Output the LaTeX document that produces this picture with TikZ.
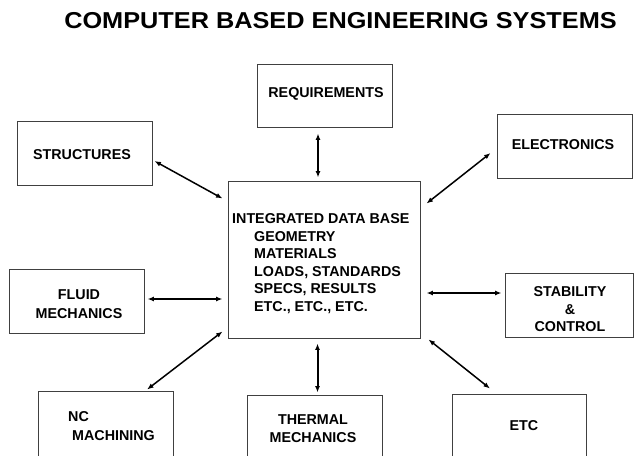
\documentclass[tikz,border=0pt]{standalone}
\usepackage{fontspec}
\setmainfont{Liberation Sans}
\usetikzlibrary{arrows.meta,calc}
\begin{document}
\begin{tikzpicture}[x=1pt,y=-1pt,
  box/.style={draw=black!75,line width=0.9pt,rectangle,inner sep=0pt},
  lbl/.style={font=\fontsize{14.3}{18}\selectfont\bfseries,inner sep=0pt,anchor=north},
  link/.style={line width=1.5pt,{Latex[length=6.5pt,width=5pt]}-{Latex[length=6.5pt,width=5pt]}},
  wide/.style={line width=2pt},
]
\useasboundingbox (0,0) rectangle (636,455);
\clip (0,0) rectangle (636,455);

% title
\node[inner sep=0pt,font=\fontsize{23}{27}\selectfont\bfseries] (title) at (340.5,21)
  {\scalebox{1.1}[1]{COMPUTER BASED ENGINEERING SYSTEMS}};

% frames
\node[box,minimum width=135pt,minimum height=63pt] (rq) at (324.5,95.5) {};
\node[box,minimum width=135pt,minimum height=64pt] (st) at (84.5,153) {};
\node[box,minimum width=135pt,minimum height=64pt] (el) at (564.5,146) {};
\node[box,minimum width=192pt,minimum height=157pt] (cen) at (324,259.5) {};
\node[box,minimum width=135pt,minimum height=64pt] (fl) at (76.5,301) {};
\node[box,minimum width=128pt,minimum height=64pt] (sb) at (569,305) {};
\node[box,minimum width=135pt,minimum height=70pt] (nc) at (105.5,426) {};
\node[box,minimum width=135pt,minimum height=66pt] (th) at (314.5,428) {};
\node[box,minimum width=134pt,minimum height=67pt] (et) at (519,427.5) {};

% labels
\node[lbl] (rqt) at (326,87.8) {REQUIREMENTS};
\node[lbl] (stt) at (82,149.8) {STRUCTURES};
\node[lbl] (elt) at (563,139.8) {ELECTRONICS};
\node[lbl,anchor=north west,align=left,font=\fontsize{14.3}{17.5}\selectfont\bfseries] (cent) at (232,213.8)
  {INTEGRATED DATA BASE\\
   \hspace*{22pt}GEOMETRY\\
   \hspace*{22pt}MATERIALS\\
   \hspace*{22pt}LOADS, STANDARDS\\
   \hspace*{22pt}SPECS, RESULTS\\
   \hspace*{22pt}ETC., ETC., ETC.};
\node[lbl,align=center,font=\fontsize{14.3}{19}\selectfont\bfseries] (flt) at (79,289.8) {FLUID\\MECHANICS};
\node[lbl,align=center,font=\fontsize{14.3}{17.5}\selectfont\bfseries] (sbt) at (570,286.8) {STABILITY\\\&\\CONTROL};
\node[lbl,anchor=north west,align=left,font=\fontsize{14.3}{19}\selectfont\bfseries] (nct) at (68,411.8) {NC\\\hspace*{4pt}MACHINING};
\node[lbl,align=center,font=\fontsize{14.3}{18}\selectfont\bfseries] (tht) at (313,414.8) {THERMAL\\MECHANICS};
\node[lbl] (ett) at (524,420.8) {ETC};

% connectors
\draw[link,wide] ($(rq.south)+(-6.5,6)$) -- ($(cen.north)+(-6,-3)$);
\draw[link] ($(st.east)+(2,8)$) -- ($(cen.north west)+(-5,18)$);
\draw[link] ($(el.west)+(-6,7)$) -- ($(cen.north east)+(6,23)$);
\draw[link,wide] ($(fl.east)+(3,-2)$) -- ($(cen.west)+(-5,39.5)$);
\draw[link,wide] ($(cen.east)+(6,33.5)$) -- ($(sb.west)+(-3,-12)$);
\draw[link] ($(cen.south west)+(-5,-7)$) -- ($(nc.north)+(41.5,-1)$);
\draw[link,wide] ($(cen.south)+(-6.5,5)$) -- ($(th.north)+(3,-2)$);
\draw[link] ($(cen.south east)+(8,1)$) -- ($(et.north)+(-29,-5)$);
\end{tikzpicture}
\end{document}
